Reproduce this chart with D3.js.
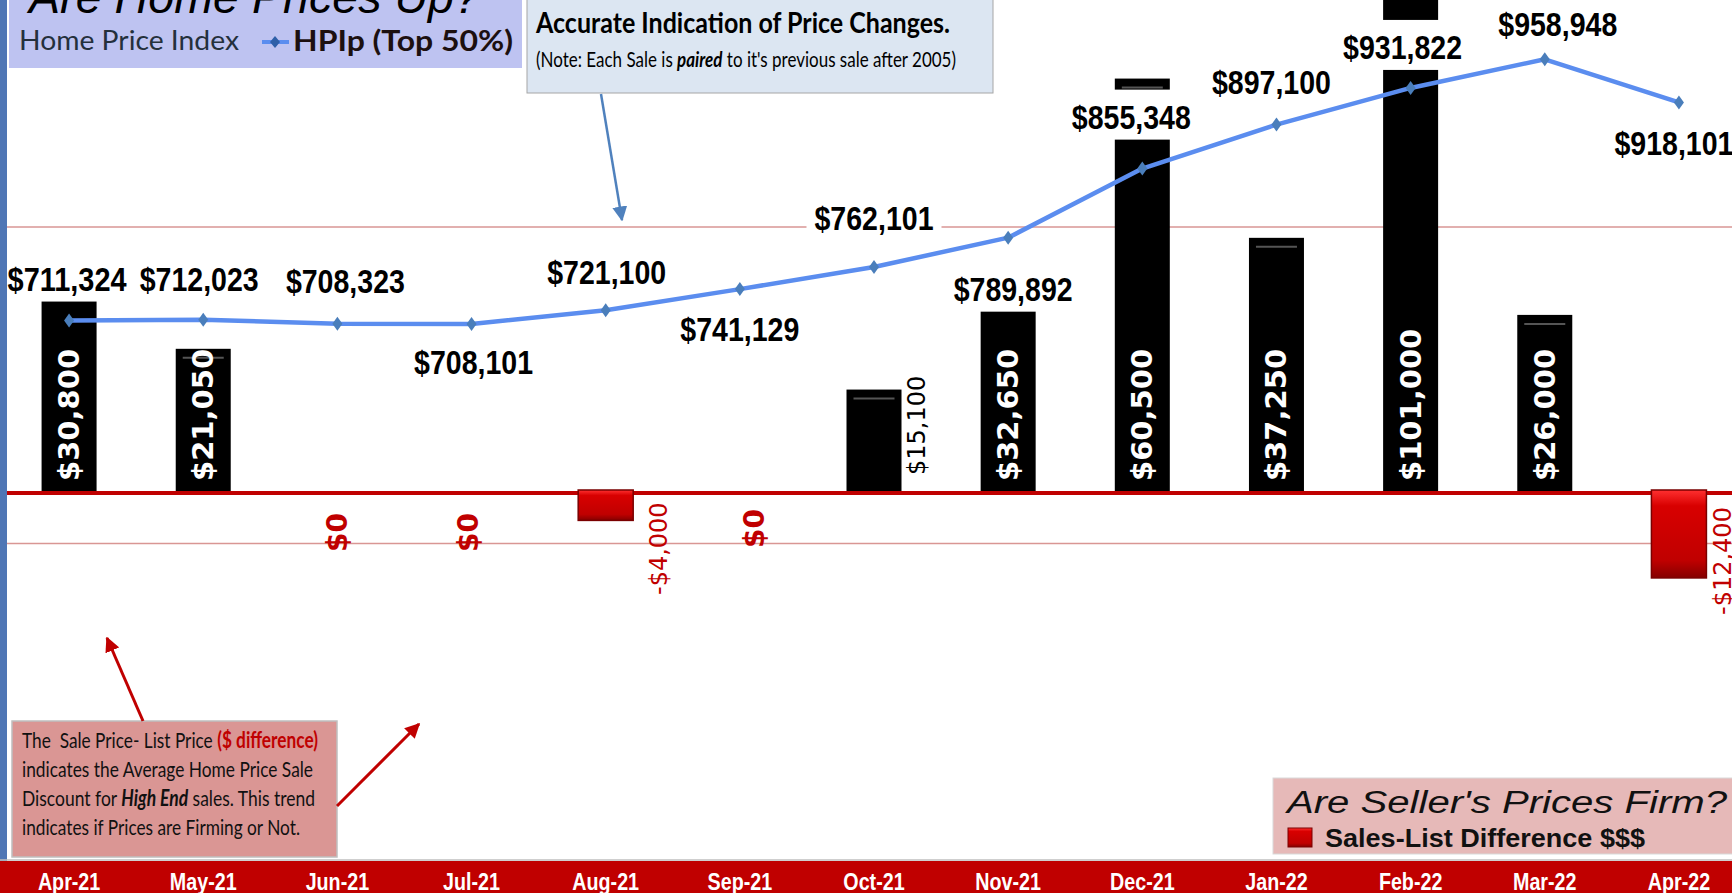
<!DOCTYPE html>
<html>
<head>
<meta charset="utf-8">
<script src="https://cdn.jsdelivr.net/npm/d3@7"></script>
<style>
  html, body { margin: 0; padding: 0; background: #fff; overflow: hidden; }
  svg { display: block; }
</style>
</head>
<body>
<div id="chart"></div>
<script>
// data
const months = ["Apr-21", "May-21", "Jun-21", "Jul-21", "Aug-21", "Sep-21", "Oct-21", "Nov-21", "Dec-21", "Jan-22", "Feb-22", "Mar-22", "Apr-22"];
const hpip = [711324, 712023, 708323, 708101, 721100, 741129, 762101, 789892, 855348, 897100, 931822, 958948, 918101];
const saleListDiff = [30800, 21050, 0, 0, -4000, 0, 15100, 32650, 60500, 37250, 101000, 26000, -12400];
const hpipGridTicks = [500000, 800000];

// label layout (nudges from the point / bar, in px)
const lineLabelNudge = [[-2, -42], [-4, -41], [8, -43], [2, 38], [1, -38], [0, 40], [0, -49], [5, 51], [-11, -52], [-5, -43], [-8, -41], [13, -35], [-5, 41]];
const barLabelNudge = [[0, -12, "in"], [0, -12, "in"], [0, 59, "zero"], [-3, 59, "zero"], [53, 102, "out"], [15, 55, "zero"], [43, -18, "out"], [0, -12, "in"], [0, -12, "in"], [0, -12, "in"], [0, -12, "in"], [0, -12, "in"], [44, 122, "out"]];

const W = 1732, H = 893;
const RED = "#C00000";

const svg = d3.select("#chart").append("svg")
    .attr("width", W)
    .attr("height", H);

// is the narrow face there?
const probe = svg.append("text").style("font", "bold 100px 'Liberation Sans Narrow'").text("0000");
const hasNarrow = probe.node().getComputedTextLength() < 200;
probe.remove();
const NARROW = hasNarrow ? "'Liberation Sans Narrow', 'Arial Narrow', sans-serif" : "'Liberation Sans', Arial, sans-serif";
const narrow = (sel) => {
    if (hasNarrow) return;
    sel.each(function () {
        const w = this.getComputedTextLength();
        d3.select(this).attr("textLength", w * 0.82).attr("lengthAdjust", "spacingAndGlyphs");
    });
};
const fit = (sel, w) => sel.attr("textLength", w).attr("lengthAdjust", "spacingAndGlyphs");

const defs = svg.append("defs");
const grad = defs.append("linearGradient").attr("id", "redbar").attr("x1", 0).attr("y1", 0).attr("x2", 0).attr("y2", 1);
grad.append("stop").attr("offset", "0%").attr("stop-color", "#ff3030");
grad.append("stop").attr("offset", "18%").attr("stop-color", "#d80000");
grad.append("stop").attr("offset", "80%").attr("stop-color", "#c00000");
grad.append("stop").attr("offset", "100%").attr("stop-color", "#850000");

defs.append("marker").attr("id", "blueHead")
    .attr("viewBox", "0 0 10 10").attr("refX", 9).attr("refY", 5)
    .attr("markerWidth", 6).attr("markerHeight", 6).attr("orient", "auto")
    .append("path").attr("d", "M0,0 L10,5 L0,10 z").attr("fill", "#4F81BD");
defs.append("marker").attr("id", "redHead")
    .attr("viewBox", "0 0 10 10").attr("refX", 9).attr("refY", 5)
    .attr("markerWidth", 5).attr("markerHeight", 5).attr("orient", "auto")
    .append("path").attr("d", "M0,0 L10,5 L0,10 z").attr("fill", RED);

// scales
const x = d3.scaleBand().domain(months).range([2, 1746]).paddingInner(0.59).paddingOuter(0.295);
const xc = (m) => x(m) + x.bandwidth() / 2;
const yLine = d3.scaleLinear().domain([200000, 800000]).range([860, 227]);
const yBar = d3.scaleLinear().domain([0, 100000]).range([493, -192]);

svg.append("rect").attr("width", W).attr("height", H).attr("fill", "#fff");

// gridlines (HPIp axis)
svg.selectAll(".grid")
    .data(hpipGridTicks)
    .enter()
    .append("line")
    .attr("x1", 7).attr("x2", W)
    .attr("y1", d => yLine(d)).attr("y2", d => yLine(d))
    .attr("stroke", "#D99694")
    .attr("stroke-width", 1.3);

const bars = months.map((m, i) => ({ m, v: saleListDiff[i], i }));

// positive bars
const pos = bars.filter(d => d.v > 0);
svg.selectAll(".bar")
    .data(pos)
    .enter()
    .append("rect")
    .attr("class", "bar")
    .attr("x", d => x(d.m))
    .attr("y", d => yBar(d.v))
    .attr("width", x.bandwidth())
    .attr("height", d => yBar(0) - yBar(d.v))
    .attr("fill", "#000");
svg.selectAll(".bevel")
    .data(pos)
    .enter()
    .append("line")
    .attr("x1", d => x(d.m) + 7)
    .attr("x2", d => x(d.m) + x.bandwidth() - 7)
    .attr("y1", d => yBar(d.v) + 9)
    .attr("y2", d => yBar(d.v) + 9)
    .attr("stroke", "#555")
    .attr("stroke-width", 2);

// zero line
svg.append("line")
    .attr("x1", 7).attr("x2", W)
    .attr("y1", yBar(0)).attr("y2", yBar(0))
    .attr("stroke", RED)
    .attr("stroke-width", 4);

// negative bars
svg.selectAll(".neg")
    .data(bars.filter(d => d.v < 0))
    .enter()
    .append("rect")
    .attr("x", d => x(d.m))
    .attr("y", yBar(0) - 3)
    .attr("width", x.bandwidth())
    .attr("height", d => yBar(d.v) - yBar(0) + 3)
    .attr("fill", "url(#redbar)")
    .attr("stroke", "#7a0000")
    .attr("stroke-width", 1.5);

// HPIp labels with white boxes
const pts = months.map((m, i) => ({ m, v: hpip[i], i }));
const lbl = svg.append("g");
pts.forEach(d => {
    const cx = xc(d.m) + lineLabelNudge[d.i][0];
    const cy = yLine(d.v) + lineLabelNudge[d.i][1];
    const box = lbl.append("rect").attr("fill", "#fff");
    const t = lbl.append("text")
        .attr("x", cx)
        .attr("y", cy + 12)
        .attr("text-anchor", "middle")
        .style("font-family", NARROW)
        .style("font-weight", "bold")
        .style("font-size", "33px")
        .attr("fill", "#000")
        .text("$" + d3.format(",")(d.v))
        .call(fit, 119);
    const bb = t.node().getBBox();
    box.attr("x", bb.x - 8).attr("width", bb.width + 16)
        .attr("y", cy - 27).attr("height", 50);
});

// HPIp line
const line = d3.line()
    .x(d => xc(d.m))
    .y(d => yLine(d.v));
svg.append("path")
    .datum(pts)
    .attr("d", line)
    .attr("fill", "none")
    .attr("stroke", "#5B8DEF")
    .attr("stroke-width", 4.5)
    .attr("stroke-linejoin", "round");
svg.selectAll(".dot")
    .data(pts)
    .enter()
    .append("path")
    .attr("d", "M0,-7 L5,0 L0,7 L-5,0 Z")
    .attr("transform", d => `translate(${xc(d.m)},${yLine(d.v)})`)
    .attr("fill", "#4A7EBB");

// bar labels
bars.forEach(d => {
    const [dx, dy, mode] = barLabelNudge[d.i];
    const bx = xc(d.m) + dx;
    const by = yBar(0) + dy;
    const t = svg.append("text")
        .attr("transform", `translate(${bx},${by}) rotate(-90)`)
        .attr("dominant-baseline", "central")
        .style("font-family", "'DejaVu Sans', sans-serif")
        .text((d.v < 0 ? "-$" : "$") + d3.format(",")(Math.abs(d.v)));
    if (mode === "in") {
        t.attr("fill", "#fff").style("font-weight", "bold").style("font-size", "29px");
    } else if (mode === "zero") {
        t.attr("fill", RED).style("font-weight", "bold").style("font-size", "28px");
    } else {
        t.attr("fill", d.v < 0 ? RED : "#000").style("font-size", "24px");
    }
});

// left border
svg.append("rect").attr("x", 0).attr("y", 0).attr("width", 7).attr("height", H).attr("fill", "#4F76B5");

// title box
svg.append("rect").attr("x", 9).attr("y", -2).attr("width", 513).attr("height", 70).attr("fill", "#BEC3F1");
svg.append("text")
    .attr("x", 29).attr("y", 13)
    .style("font-family", "'Liberation Sans', Arial, sans-serif")
    .style("font-style", "italic")
    .style("font-size", "47px")
    .attr("fill", "#000")
    .text("Are Home Prices Up?")
    .call(fit, 451);
svg.append("text")
    .attr("x", 19).attr("y", 50)
    .style("font-family", "Lato, 'Open Sans', sans-serif")
    .style("font-size", "26px")
    .attr("fill", "#24303c")
    .text("Home Price Index")
    .call(fit, 220);
svg.append("line").attr("x1", 262).attr("x2", 289).attr("y1", 42).attr("y2", 42)
    .attr("stroke", "#5B8DEF").attr("stroke-width", 4);
svg.append("path").attr("d", "M0,-6 L5,0 L0,6 L-5,0 Z").attr("transform", "translate(275,42)").attr("fill", "#2E5FA8");
svg.append("text")
    .attr("x", 293).attr("y", 51)
    .style("font-family", "Lato, 'Open Sans', sans-serif")
    .style("font-weight", "bold")
    .style("font-size", "28px")
    .attr("fill", "#1c1010")
    .text("HPIp (Top 50%)")
    .call(fit, 220);

// note box
svg.append("rect").attr("x", 527).attr("y", -2).attr("width", 466).attr("height", 95)
    .attr("fill", "#DCE6F2").attr("stroke", "#A6A6A6").attr("stroke-width", 1);
svg.append("text")
    .attr("x", 536).attr("y", 33)
    .style("font-family", "Lato, 'Open Sans', sans-serif")
    .style("font-weight", "bold")
    .style("font-size", "28px")
    .attr("fill", "#000")
    .text("Accurate Indication of Price Changes.")
    .call(fit, 414);
const note = svg.append("text")
    .attr("x", 536).attr("y", 67)
    .style("font-family", "Lato, 'Open Sans', sans-serif")
    .style("font-size", "21px")
    .attr("fill", "#000");
note.append("tspan").text("(Note: Each Sale is ");
note.append("tspan").style("font-weight", "bold").style("font-style", "italic").text("paired");
note.append("tspan").text(" to it's previous sale after 2005)");
note.call(fit, 420);
svg.append("line").attr("x1", 601).attr("y1", 94).attr("x2", 622).attr("y2", 220)
    .attr("stroke", "#4F81BD").attr("stroke-width", 2.5).attr("marker-end", "url(#blueHead)");

// explanation box
svg.append("rect").attr("x", 12).attr("y", 721).attr("width", 325).attr("height", 136)
    .attr("fill", "#DA9694").attr("stroke", "#BFBFBF").attr("stroke-width", 1.5);
const expl = svg.append("g")
    .style("font-family", "Lato, 'Open Sans', sans-serif")
    .style("font-size", "22px")
    .attr("fill", "#111");
const l1 = expl.append("text").attr("x", 22).attr("y", 748).attr("xml:space", "preserve").style("white-space", "pre");
l1.append("tspan").text("The  Sale Price- List Price ");
l1.append("tspan").style("font-weight", "bold").attr("fill", RED).text("($ difference)");
l1.call(fit, 296);
expl.append("text").attr("x", 22).attr("y", 777).text("indicates the Average Home Price Sale").call(fit, 291);
const l3 = expl.append("text").attr("x", 22).attr("y", 806);
l3.append("tspan").text("Discount for ");
l3.append("tspan").style("font-weight", "bold").style("font-style", "italic").text("High End");
l3.append("tspan").text(" sales. This trend");
l3.call(fit, 293);
expl.append("text").attr("x", 22).attr("y", 835).text("indicates if Prices are Firming or Not.").call(fit, 278);

svg.append("line").attr("x1", 143).attr("y1", 721).attr("x2", 107).attr("y2", 638)
    .attr("stroke", RED).attr("stroke-width", 3).attr("marker-end", "url(#redHead)");
svg.append("line").attr("x1", 337).attr("y1", 806).attr("x2", 419).attr("y2", 724)
    .attr("stroke", RED).attr("stroke-width", 3).attr("marker-end", "url(#redHead)");

// legend box
svg.append("rect").attr("x", 1273).attr("y", 778).attr("width", 470).attr("height", 76)
    .attr("fill", "#E6B9B8").attr("stroke", "#D9D9D9");
svg.append("text")
    .attr("x", 1287).attr("y", 813)
    .style("font-family", "'Liberation Sans', Arial, sans-serif")
    .style("font-style", "italic")
    .style("font-size", "31px")
    .attr("fill", "#111")
    .text("Are Seller's Prices Firm?")
    .call(fit, 440);
svg.append("rect").attr("x", 1288).attr("y", 828).attr("width", 24).attr("height", 19)
    .attr("fill", "url(#redbar)").attr("stroke", "#7a0000");
svg.append("text")
    .attr("x", 1325).attr("y", 847)
    .style("font-family", "'Liberation Sans', Arial, sans-serif")
    .style("font-weight", "bold")
    .style("font-size", "25px")
    .attr("fill", "#111")
    .text("Sales-List Difference $$$")
    .call(fit, 320);

// bottom band with month labels
svg.append("rect").attr("x", 0).attr("y", 861).attr("width", W).attr("height", 32).attr("fill", RED);
svg.append("line").attr("x1", 0).attr("x2", W).attr("y1", 860).attr("y2", 860).attr("stroke", "#bfbfbf").attr("stroke-width", 1.5);
svg.selectAll(".mlabel")
    .data(months)
    .enter()
    .append("text")
    .attr("x", d => xc(d))
    .attr("y", 890)
    .attr("text-anchor", "middle")
    .style("font-family", NARROW)
    .style("font-weight", "bold")
    .style("font-size", "24px")
    .attr("fill", "#fff")
    .text(d => d)
    .call(narrow);
</script>
</body>
</html>
